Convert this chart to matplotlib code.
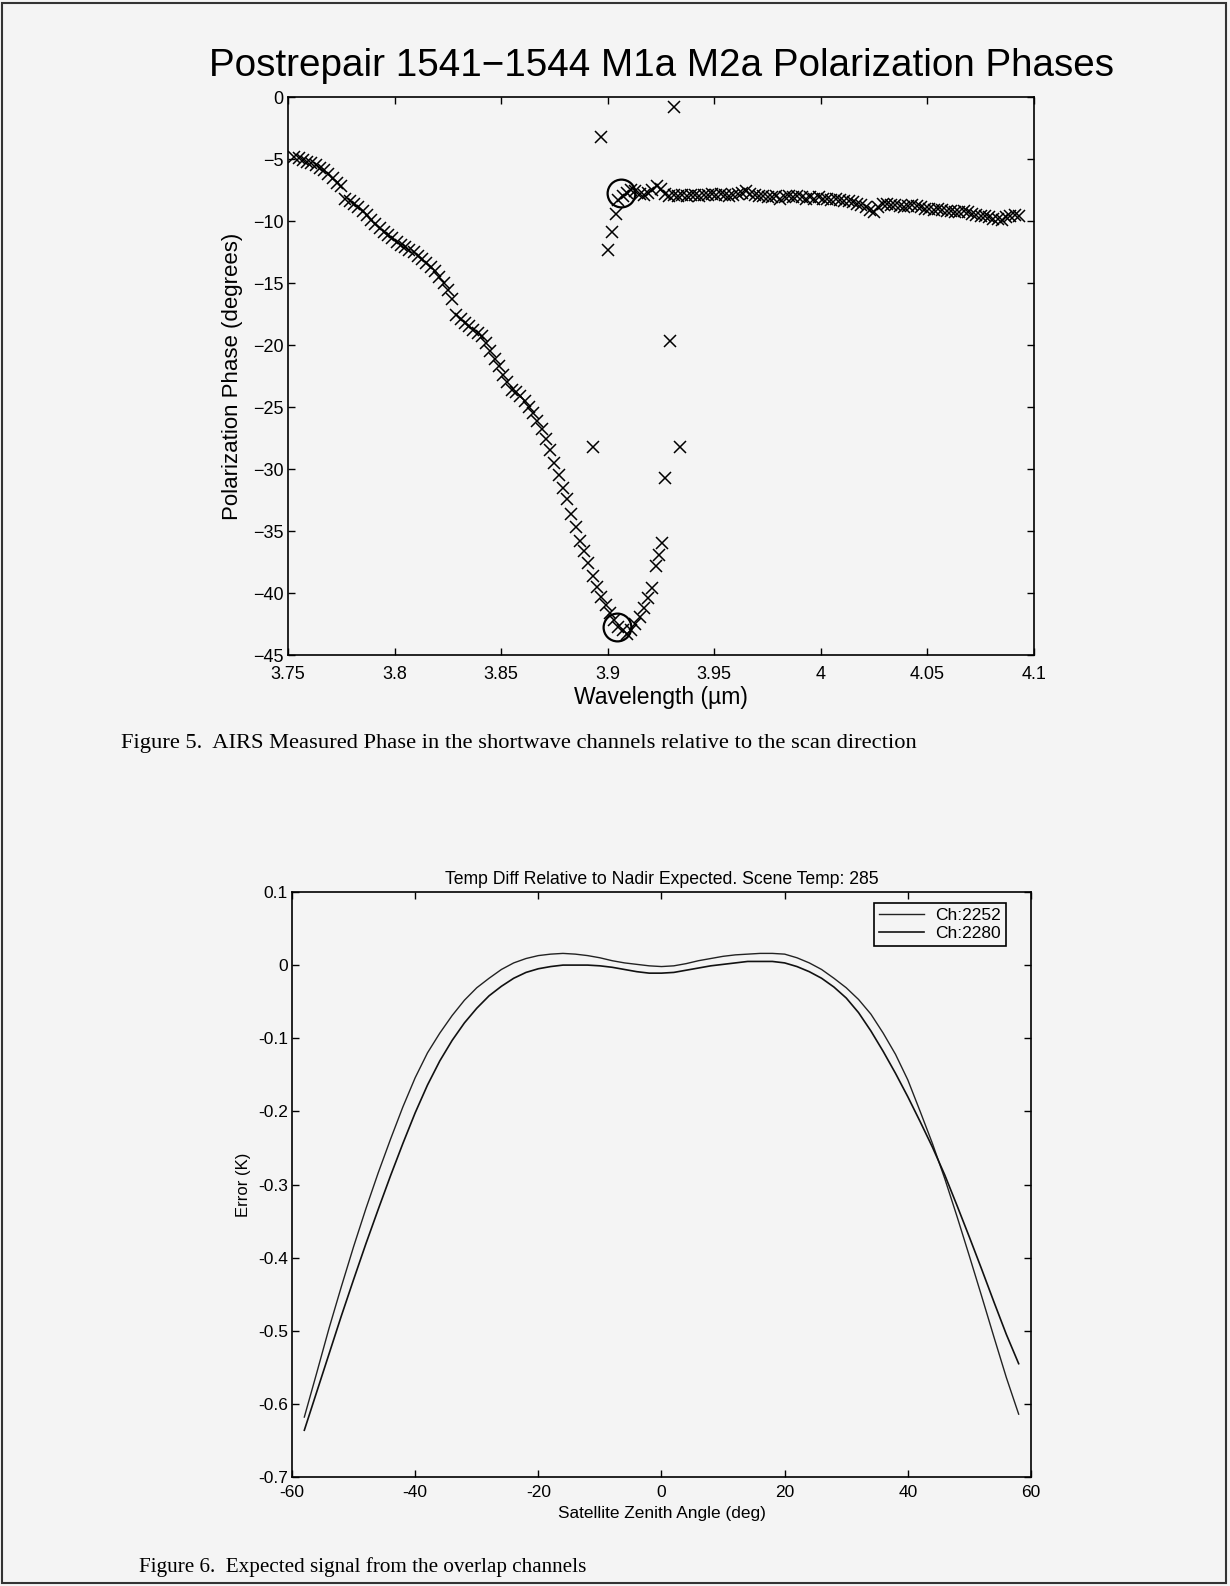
import matplotlib.pyplot as plt
from matplotlib.patches import Rectangle

plt.rcParams['font.family'] = ['Liberation Sans', 'DejaVu Sans']

# ---- Figure 5 data: measured polarization phase vs wavelength (um) ----
wl_left = [3.753, 3.755, 3.757, 3.759, 3.761, 3.763, 3.765, 3.767, 3.769, 3.771,
           3.773, 3.775, 3.777, 3.779, 3.781, 3.783, 3.785, 3.787, 3.789, 3.791,
           3.793, 3.795, 3.797, 3.799, 3.801, 3.803, 3.805, 3.807, 3.809, 3.811,
           3.813, 3.815, 3.817, 3.819, 3.821, 3.823, 3.825, 3.827, 3.829, 3.831,
           3.833, 3.835, 3.837, 3.839, 3.841, 3.843, 3.845, 3.847, 3.849, 3.851,
           3.853, 3.855, 3.857, 3.859, 3.861, 3.863, 3.865, 3.867, 3.869, 3.871,
           3.873, 3.875, 3.877, 3.879, 3.881, 3.883, 3.885, 3.887, 3.889, 3.891,
           3.893, 3.895, 3.897, 3.899, 3.901, 3.903, 3.905, 3.907, 3.909]
ph_left = [-4.8, -4.9, -5.1, -5.2, -5.3, -5.5, -5.7, -5.9, -6.2, -6.5,
           -6.9, -7.2, -8.2, -8.4, -8.6, -8.9, -9.2, -9.5, -9.9, -10.2,
           -10.6, -10.9, -11.1, -11.4, -11.7, -11.9, -12.1, -12.3, -12.5, -12.8,
           -13.1, -13.4, -13.7, -14.0, -14.5, -15.0, -15.6, -16.3, -17.6, -17.9,
           -18.2, -18.5, -18.8, -19.0, -19.3, -19.8, -20.5, -21.1, -21.7, -22.4,
           -23.0, -23.6, -23.8, -24.1, -24.5, -25.0, -25.5, -26.1, -26.8, -27.6,
           -28.5, -29.5, -30.5, -31.5, -32.4, -33.6, -34.7, -35.8, -36.6, -37.6,
           -38.6, -39.5, -40.3, -41.0, -41.6, -42.2, -42.7, -43.0, -43.3]

wl_rise = [3.911, 3.913, 3.915, 3.917, 3.919, 3.921, 3.9225, 3.924, 3.9255]
ph_rise = [-43.0, -42.5, -41.9, -41.2, -40.4, -39.6, -37.8, -36.9, -36.0]

wl_flat = [3.905, 3.907, 3.909, 3.911, 3.913, 3.915, 3.917, 3.919, 3.921, 3.923,
           3.925, 3.927, 3.929, 3.931, 3.933, 3.935, 3.937, 3.939, 3.941, 3.943,
           3.945, 3.947, 3.949, 3.951, 3.953, 3.955, 3.957, 3.959, 3.961, 3.963,
           3.965, 3.967, 3.969, 3.971, 3.973, 3.975, 3.977, 3.979, 3.981, 3.983,
           3.985, 3.987, 3.989, 3.991, 3.993, 3.995, 3.997, 3.999, 4.001, 4.003,
           4.005, 4.007, 4.009, 4.011, 4.013, 4.015, 4.017, 4.019, 4.021, 4.023,
           4.025, 4.027, 4.029, 4.031, 4.033, 4.035, 4.037, 4.039, 4.041, 4.043,
           4.045, 4.047, 4.049, 4.051, 4.053, 4.055, 4.057, 4.059, 4.061, 4.063,
           4.065, 4.067, 4.069, 4.071, 4.073, 4.075, 4.077, 4.079, 4.081, 4.083,
           4.085, 4.087, 4.089, 4.091, 4.093]
ph_flat = [-8.3, -8.0, -7.7, -7.5, -7.6, -7.8, -7.9, -7.7, -7.5, -7.2,
           -7.4, -7.8, -8.0, -7.9, -8.0, -7.9, -8.0, -7.9, -7.9, -8.0,
           -7.9, -7.9, -7.8, -7.9, -7.8, -7.9, -8.0, -7.9, -7.8, -7.7,
           -7.6, -7.8, -7.9, -8.0, -8.0, -8.1, -8.1, -8.0, -8.2, -8.1,
           -8.0, -8.1, -8.0, -8.1, -8.2, -8.1, -8.2, -8.1, -8.2, -8.2,
           -8.3, -8.2, -8.3, -8.4, -8.4, -8.5, -8.6, -8.7, -8.9, -9.1,
           -9.3, -8.9, -8.6, -8.6, -8.7, -8.7, -8.8, -8.9, -8.8, -8.7,
           -8.8, -8.9, -9.0, -9.0, -9.1, -9.0, -9.1, -9.2, -9.2, -9.3,
           -9.3, -9.2, -9.3, -9.4, -9.5, -9.6, -9.6, -9.7, -9.8, -9.8,
           -9.9, -9.7, -9.6, -9.5, -9.6]

# isolated points around the 3.9 um transition
wl_out = [3.893, 3.8969, 3.9002, 3.902, 3.9039, 3.9269, 3.9293, 3.931, 3.934]
ph_out = [-28.2, -3.2, -12.3, -10.9, -9.4, -30.7, -19.7, -0.8, -28.2]

# circled points
circ_wl = [3.9063, 3.9044]
circ_ph = [-7.7, -42.7]

wl_ticks = [3.75, 3.8, 3.85, 3.9, 3.95, 4.0, 4.05, 4.1]
wl_ticklabels = ['3.75', '3.8', '3.85', '3.9', '3.95', '4', '4.05', '4.1']
ph_ticks = [0, -5, -10, -15, -20, -25, -30, -35, -40, -45]

# ---- Figure 6 data: expected error vs satellite zenith angle ----
zenith = [-58, -56, -54, -52, -50, -48, -46, -44, -42, -40, -38, -36, -34, -32, -30,
          -28, -26, -24, -22, -20, -18, -16, -14, -12, -10, -8, -6, -4, -2, 0,
          2, 4, 6, 8, 10, 12, 14, 16, 18, 20, 22, 24, 26, 28, 30,
          32, 34, 36, 38, 40, 42, 44, 46, 48, 50, 52, 54, 56, 58]
err_2252 = [-0.618, -0.558, -0.497, -0.440, -0.385, -0.333, -0.284, -0.238, -0.194, -0.154,
            -0.120, -0.093, -0.069, -0.048, -0.031, -0.018, -0.006, 0.003, 0.009, 0.013,
            0.015, 0.016, 0.015, 0.013, 0.010, 0.006, 0.003, 0.001, -0.001, -0.002,
            -0.001, 0.002, 0.006, 0.009, 0.012, 0.014, 0.015, 0.016, 0.016, 0.015,
            0.010, 0.003, -0.006, -0.018, -0.031, -0.047, -0.067, -0.093, -0.122, -0.157,
            -0.200, -0.244, -0.292, -0.344, -0.398, -0.453, -0.509, -0.564, -0.614]
err_2280 = [-0.636, -0.584, -0.532, -0.480, -0.430, -0.381, -0.334, -0.288, -0.244, -0.202,
            -0.164, -0.131, -0.103, -0.079, -0.059, -0.042, -0.029, -0.018, -0.010, -0.005,
            -0.002, 0.000, 0.000, 0.000, -0.001, -0.003, -0.006, -0.009, -0.011, -0.011,
            -0.010, -0.007, -0.004, -0.001, 0.001, 0.003, 0.005, 0.005, 0.005, 0.003,
            -0.002, -0.009, -0.018, -0.030, -0.045, -0.065, -0.090, -0.118, -0.148, -0.180,
            -0.214, -0.249, -0.287, -0.329, -0.372, -0.416, -0.461, -0.505, -0.545]
za_ticks = [-60, -40, -20, 0, 20, 40, 60]
err_ticks = [0.1, 0, -0.1, -0.2, -0.3, -0.4, -0.5, -0.6, -0.7]

bg = '#f4f4f4'
fig = plt.figure(figsize=(12.3, 15.86), dpi=100, facecolor=bg)

# page border
fig.patches.append(Rectangle((0.002, 0.002), 0.995, 0.996, transform=fig.transFigure,
                             fill=False, edgecolor='#333333', linewidth=1.5))


def matlab_axes(ax):
    ax.set_facecolor(bg)
    for s in ax.spines.values():
        s.set_linewidth(1.2)
    ax.tick_params(direction='in', top=True, right=True, length=5, width=1.0)


# ---------- top chart ----------
ax1 = fig.add_axes([0.2341, 0.5870, 0.6065, 0.3518])
matlab_axes(ax1)
ax1.plot(wl_left, ph_left, 'x', color='black', ms=8.5, mew=1.1)
ax1.plot(wl_rise, ph_rise, 'x', color='black', ms=8.5, mew=1.1)
ax1.plot(wl_flat, ph_flat, 'x', color='black', ms=8.5, mew=1.1)
ax1.plot(wl_out, ph_out, 'x', color='black', ms=8.5, mew=1.1)
ax1.plot(circ_wl, circ_ph, 'o', mfc='none', mec='black', ms=20, mew=1.6)
ax1.set_xlim(3.75, 4.1)
ax1.set_ylim(-45, 0)
ax1.set_xticks(wl_ticks)
ax1.set_xticklabels(wl_ticklabels)
ax1.set_yticks(ph_ticks)
ax1.set_yticklabels(['0' if t == 0 else '\u2212%d' % -t for t in ph_ticks])
ax1.tick_params(axis='y', labelsize=13, pad=3)
ax1.tick_params(axis='x', labelsize=13, pad=8)
ax1.set_xlabel('Wavelength (\u00b5m)', fontsize=16.5, labelpad=2)
ax1.set_ylabel('Polarization Phase (degrees)', fontsize=16, labelpad=7)
fig.text(0.538, 0.9585, 'Postrepair 1541\u22121544 M1a M2a Polarization Phases',
         fontsize=27.8, ha='center', va='center')

fig.text(0.098, 0.5315,
         'Figure 5.  AIRS Measured Phase in the shortwave channels relative to the scan direction',
         fontsize=16.2, family=['Liberation Serif', 'DejaVu Serif'], va='center')

# ---------- bottom chart ----------
ax2 = fig.add_axes([0.2374, 0.0687, 0.6008, 0.3689])
matlab_axes(ax2)
ax2.plot(zenith, err_2252, color='#222222', lw=1.0, label='Ch:2252')
ax2.plot(zenith, err_2280, color='#111111', lw=1.2, label='Ch:2280')
ax2.set_xlim(-60, 60)
ax2.set_ylim(-0.7, 0.1)
ax2.set_xticks(za_ticks)
ax2.set_xticklabels(['%d' % t for t in za_ticks])
ax2.set_yticks(err_ticks)
ax2.set_yticklabels(['0' if t == 0 else '%g' % t for t in err_ticks])
ax2.tick_params(axis='y', labelsize=12.5, pad=3)
ax2.tick_params(axis='x', labelsize=12.5, pad=6)
ax2.set_xlabel('Satellite Zenith Angle (deg)', fontsize=12.4, labelpad=4)
ax2.set_ylabel('Error (K)', fontsize=12, labelpad=5)
ax2.set_title('Temp Diff Relative to Nadir Expected. Scene Temp: 285', fontsize=12.7, pad=6)
leg = ax2.legend(loc='upper right', bbox_to_anchor=(0.966, 0.981), borderaxespad=0,
                 fontsize=12.5, handlelength=2.6, handletextpad=0.6, borderpad=0.3,
                 labelspacing=0.15, fancybox=False, framealpha=1, facecolor=bg,
                 edgecolor='black')
leg.get_frame().set_linewidth(1.2)

fig.text(0.113, 0.0120, 'Figure 6.  Expected signal from the overlap channels',
         fontsize=15.2, family=['Liberation Serif', 'DejaVu Serif'], va='center')

fig.savefig('out.png', dpi=100, facecolor=bg)
